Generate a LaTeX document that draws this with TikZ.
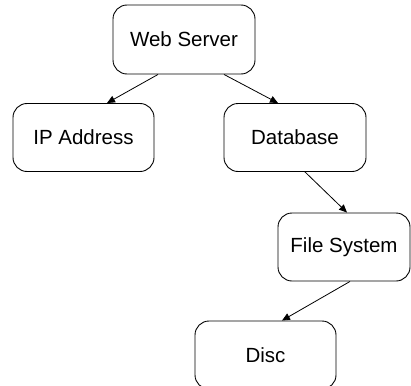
\documentclass[tikz,border=0pt]{standalone}
\usepackage{fontspec}
\setmainfont{Liberation Sans}
\usetikzlibrary{arrows.meta}
\begin{document}
\begin{tikzpicture}[x=1pt,y=-1pt,
  box/.style={draw, line width=0.9pt, rounded corners=14pt, inner sep=0pt, font=\fontsize{20.5}{24}\selectfont},
  conn/.style={line width=0.8pt, -{Triangle[length=8pt,width=7pt]}}]
\clip (0,0) rectangle (411,385);
\node[box, minimum width=142pt, minimum height=69pt] (ws) at (184,39.5) {\raisebox{-2.5pt}{Web Server}};
\node[box, minimum width=141pt, minimum height=68pt] (ip) at (83.5,137.5) {\raisebox{-2pt}{IP Address}};
\node[box, minimum width=142pt, minimum height=68pt] (db) at (295,137.5) {\raisebox{-2pt}{Database}};
\node[box, minimum width=132pt, minimum height=68pt] (fs) at (344,247) {\raisebox{-2pt}{File System}};
\node[box, minimum width=141pt, minimum height=68pt] (disc) at (265.5,355) {\raisebox{-2pt}{Disc}};
\draw[conn] ([xshift=-26pt]ws.south) -- ([xshift=23.5pt]ip.north);
\draw[conn] ([xshift=40pt]ws.south) -- ([xshift=-17pt]db.north);
\draw[conn] ([xshift=10pt]db.south) -- ([xshift=3pt]fs.north);
\draw[conn] ([xshift=6pt]fs.south) -- ([xshift=16.5pt]disc.north);
\end{tikzpicture}
\end{document}
